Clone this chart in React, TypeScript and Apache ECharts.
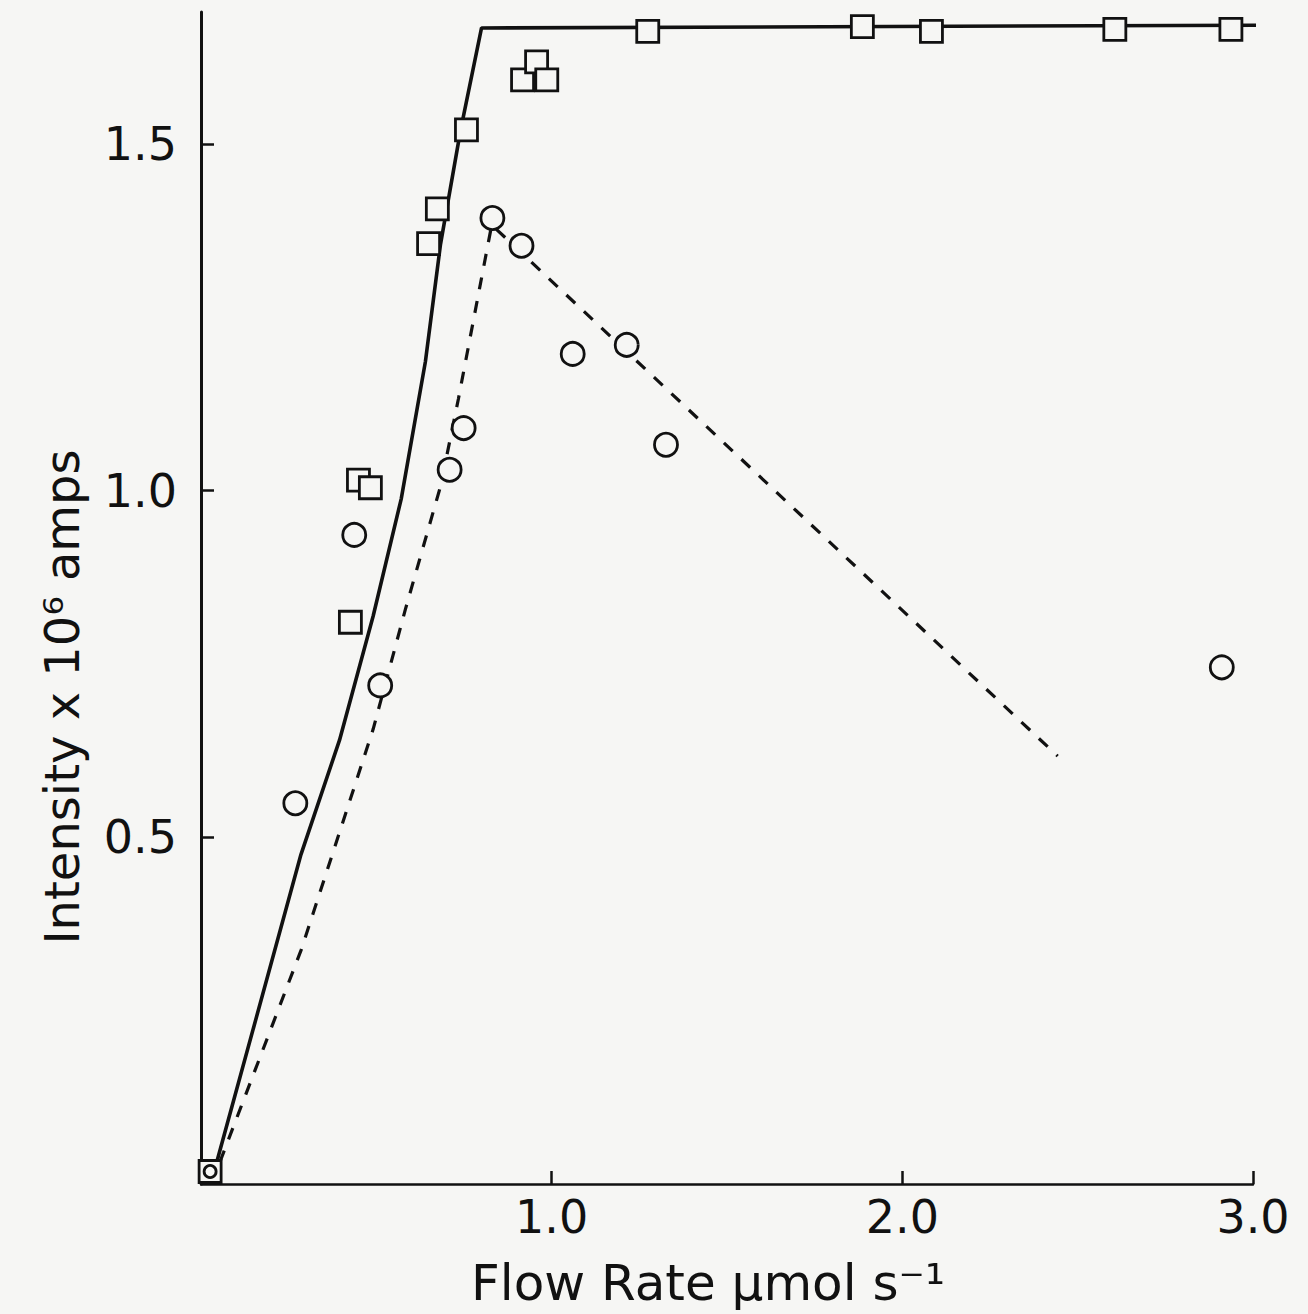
import React, { useEffect, useRef } from "react";
import * as echarts from "echarts";

// Tick values
const xTickValues = [1.0, 2.0, 3.0];
const yTickValues = [0.5, 1.0, 1.5];

// Square markers (upper curve)
const squareX = [0.026, 0.426, 0.449, 0.483, 0.649, 0.674, 0.757, 0.917, 0.957, 0.986, 1.274, 1.886, 2.083, 2.606, 2.937];
const squareY = [0.018, 0.810, 1.015, 1.004, 1.356, 1.406, 1.520, 1.592, 1.618, 1.592, 1.662, 1.669, 1.662, 1.665, 1.665];

// Circle markers (lower curve)
const circleX = [0.026, 0.269, 0.437, 0.511, 0.709, 0.749, 0.831, 0.914, 1.060, 1.214, 1.326, 2.911];
const circleY = [0.018, 0.549, 0.936, 0.719, 1.030, 1.090, 1.393, 1.353, 1.197, 1.210, 1.066, 0.745];

// Solid fitted line
const solidX = [0.043, 0.285, 0.395, 0.491, 0.571, 0.640, 0.683, 0.740, 0.800, 3.026];
const solidY = [0.028, 0.475, 0.640, 0.819, 0.988, 1.186, 1.355, 1.519, 1.667, 1.671];

// Dashed fitted line
const dashedX = [0.054, 0.286, 0.491, 0.583, 0.683, 0.734, 0.829, 2.443];
const dashedY = [0.032, 0.338, 0.656, 0.829, 1.006, 1.132, 1.383, 0.617];

const xName = "Flow Rate \u03bcmol s\u207b\u00b9";
const yName = "Intensity x 10\u2076 amps";

const BG = "#f6f6f4";
const INK = "#111111";
const FONT = "DejaVu Sans";

const zip = (xs: number[], ys: number[]) => xs.map((x, i) => [x, ys[i]]);

export default function App() {
  const ref = useRef<HTMLDivElement>(null);
  useEffect(() => {
    document.body.style.margin = "0";
    const chart = echarts.init(ref.current!, null, { renderer: "svg" });
    const option: any = {
      animation: false,
      backgroundColor: BG,
      grid: { left: 201, right: 55, top: 12, bottom: 130 },
      xAxis: {
        type: "value",
        min: 0,
        max: 3,
        interval: 1,
        splitLine: { show: false },
        axisLine: { show: true, onZero: false, lineStyle: { color: INK, width: 2.5 } },
        axisTick: { show: true, inside: true, length: 13, customValues: xTickValues, lineStyle: { color: INK, width: 2.5 } },
        axisLabel: {
          customValues: xTickValues,
          formatter: (v: number) => v.toFixed(1),
          color: INK,
          fontFamily: FONT,
          fontSize: 46,
          margin: 10,
        },
      },
      yAxis: {
        type: "value",
        min: 0,
        max: 1.69,
        interval: 0.5,
        splitLine: { show: false },
        axisLine: { show: true, onZero: false, lineStyle: { color: INK, width: 3 } },
        axisTick: { show: true, inside: true, length: 13, customValues: yTickValues, lineStyle: { color: INK, width: 2.5 } },
        axisLabel: {
          customValues: yTickValues,
          formatter: (v: number) => v.toFixed(1),
          color: INK,
          fontFamily: FONT,
          fontSize: 46,
          margin: 24,
        },
      },
      graphic: [
        {
          type: "text",
          x: 708,
          y: 1283,
          style: { text: xName, fill: INK, font: `50px "${FONT}"`, align: "center", verticalAlign: "middle" },
        },
        {
          type: "text",
          x: 62,
          y: 697,
          rotation: Math.PI / 2,
          style: { text: yName, fill: INK, font: `48px "${FONT}"`, align: "center", verticalAlign: "middle" },
        },
      ],
      series: [
        {
          type: "line",
          data: zip(solidX, solidY),
          showSymbol: false,
          symbol: "none",
          clip: false,
          lineStyle: { color: INK, width: 3.6, opacity: 1 },
          z: 2,
        },
        {
          type: "line",
          data: zip(dashedX, dashedY),
          showSymbol: false,
          symbol: "none",
          clip: false,
          lineStyle: { color: INK, width: 3.2, type: [12, 12], opacity: 1 },
          z: 2,
        },
        {
          type: "scatter",
          data: zip(squareX, squareY),
          symbol: "rect",
          symbolSize: 22,
          itemStyle: { color: BG, borderColor: INK, borderWidth: 2.8, opacity: 1 },
          z: 3,
        },
        {
          type: "scatter",
          data: zip(circleX, circleY).map((p, i) =>
            i === 0 ? { value: p, symbolSize: 12 } : { value: p }
          ),
          symbol: "circle",
          symbolSize: 23,
          itemStyle: { color: BG, borderColor: INK, borderWidth: 2.8, opacity: 1 },
          z: 4,
        },
      ],
    };
    chart.setOption(option);
    return () => chart.dispose();
  }, []);
  return <div ref={ref} style={{ width: 1308, height: 1314 }} />;
}
